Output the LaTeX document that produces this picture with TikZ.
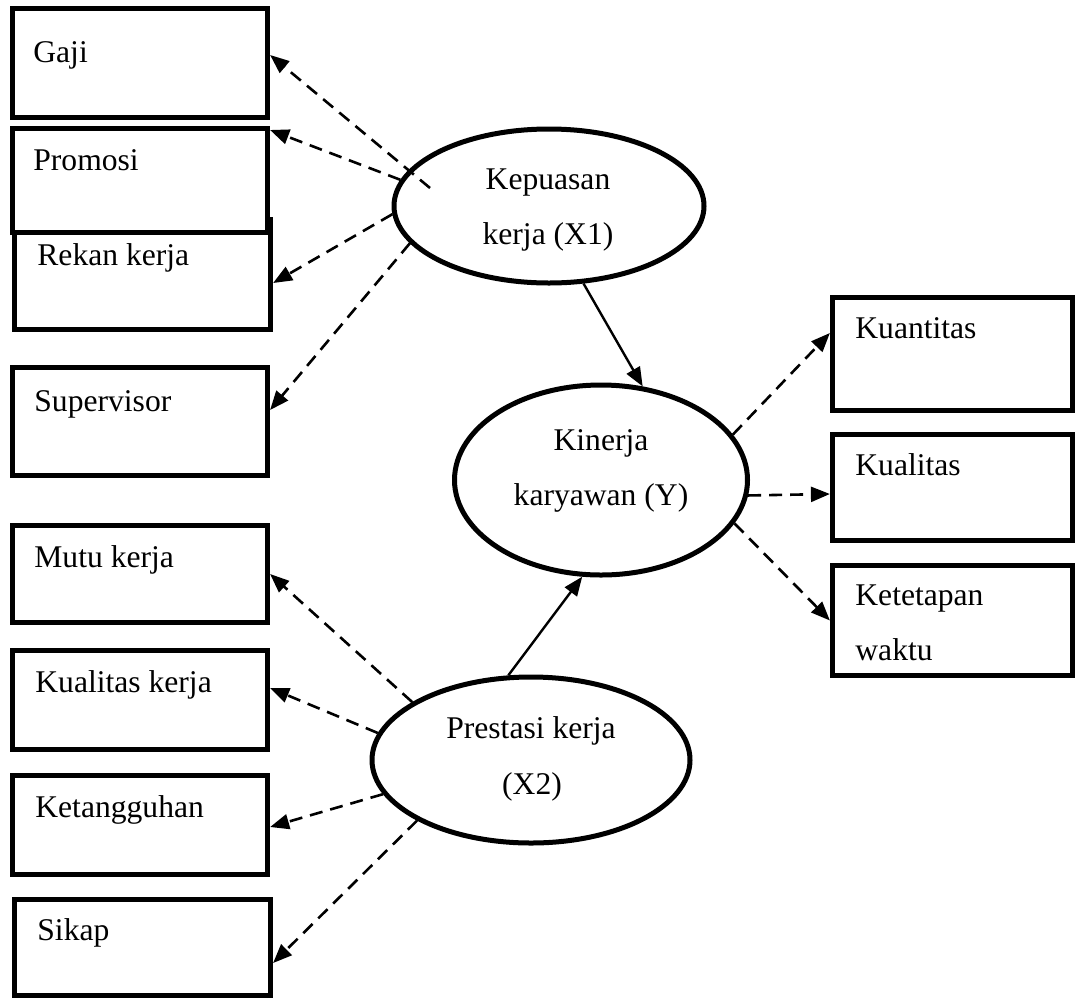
\documentclass[tikz,border=0pt]{standalone}
\usepackage{fontspec}
\setmainfont{Liberation Serif}
\usetikzlibrary{arrows.meta,calc,shapes.geometric}
\begin{document}
\begin{tikzpicture}[x=0.5pt,y=-0.5pt,
  box/.style={draw,fill=white,line width=2.6pt,inner sep=0pt,minimum width=#1},
  box/.default=127.5pt,
  lat/.style={draw,ellipse,line width=2.5pt,inner sep=0pt},
  txt/.style={inner sep=0pt,anchor=base west,font=\fontsize{15.8}{27.5}\selectfont},
  ctxt/.style={inner sep=0pt,anchor=base,font=\fontsize{15.8}{27.5}\selectfont},
  ind/.style={dashed,dash pattern=on 6.5pt off 4pt,line width=1.3pt,-{Triangle[length=9.5pt,width=7.5pt]}},
  path/.style={line width=1.2pt,-{Triangle[length=9.5pt,width=7.5pt]}}]
\useasboundingbox (0,0) rectangle (1076,997);
% left boxes
\node[box, minimum height=54.5pt] (gaji) at (140,63) {};
\node[box=128pt, minimum height=55pt] (rekan) at (142.5,274.5) {};
\node[box, minimum height=52pt] (promosi) at (140,180.5) {};
\node[box, minimum height=54pt] (super) at (140,421.5) {};
\node[box, minimum height=48.5pt] (mutu) at (140,574) {};
\node[box, minimum height=49.5pt] (kualk) at (140,700) {};
\node[box, minimum height=49.5pt] (tangguh) at (140,825) {};
\node[box=128pt, minimum height=48pt] (sikap) at (142.5,947.5) {};
% right boxes
\node[box=120pt, minimum height=56.5pt] (kuant) at (952.5,354) {};
\node[box=120pt, minimum height=53pt] (kual) at (952.5,487.5) {};
\node[box=120pt, minimum height=55pt] (tepat) at (952.5,620.5) {};
% box texts
\node[txt] (tgaji) at (33,62) {Gaji};
\node[txt] (tpromosi) at (33,170) {Promosi};
\node[txt] (trekan) at (37,265) {Rekan kerja};
\node[txt] (tsuper) at (34,411) {Supervisor};
\node[txt] (tmutu) at (34,567) {Mutu kerja};
\node[txt] (tkualk) at (35,692) {Kualitas kerja};
\node[txt] (ttangguh) at (35,817) {Ketangguhan};
\node[txt] (tsikap) at (37,940) {Sikap};
\node[txt] (tkuant) at (855,338) {Kuantitas};
\node[txt] (tkual) at (855,475) {Kualitas};
\node[txt] (ttepat1) at (855,605) {Ketetapan};
\node[txt] (ttepat2) at (855,660) {waktu};
% latent variables
\node[lat, minimum width=155pt, minimum height=77pt] (x1) at (549,206) {};
\node[lat, minimum width=146.5pt, minimum height=95pt] (y) at (601,480) {};
\node[lat, minimum width=159pt, minimum height=83pt] (x2) at (531,760) {};
\node[ctxt] (tx1a) at (548,189) {Kepuasan};
\node[ctxt] (tx1b) at (548,244) {kerja (X1)};
\node[ctxt] (tya) at (601,450) {Kinerja};
\node[ctxt] (tyb) at (601,505) {karyawan (Y)};
\node[ctxt] (tx2a) at (531,738) {Prestasi kerja};
\node[ctxt] (tx2b) at (532,794) {(X2)};
% X1 indicators
\coordinate (gajiS) at (430,188);
\draw[ind] (gajiS) -- ($(gaji.east)+(0,-8)$);
\draw[ind] (x1.170.5) -- ($(promosi.east)+(0,-50.5)$);
\draw[ind] (x1.183.3) -- ($(rekan.east)+(0,8.5)$);
\draw[ind] (x1.195.2) -- ($(super.east)+(0,-11.5)$);
% X2 indicators
\draw[ind] (x2.154.2) -- (mutu.east);
\draw[ind] (x2.170) -- ($(kualk.east)+(0,-12)$);
\draw[ind] (x2.193.2) -- ($(tangguh.east)+(0,2)$);
\draw[ind] (x2.208.1) -- ($(sikap.east)+(0,15.5)$);
% Y indicators
\draw[ind] (y.19.6) -- ($(kuant.west)+(0,-21)$);
\draw[ind] (y.-6.6) -- ($(kual.west)+(0,6.5)$);
\draw[ind] (y.-18.6) -- (tepat.west);
% structural paths
\draw[path] (x1.-66.6) -- (y.66.6);
\draw[path] (x2.105.8) -- (y.259.5);
\end{tikzpicture}
\end{document}
